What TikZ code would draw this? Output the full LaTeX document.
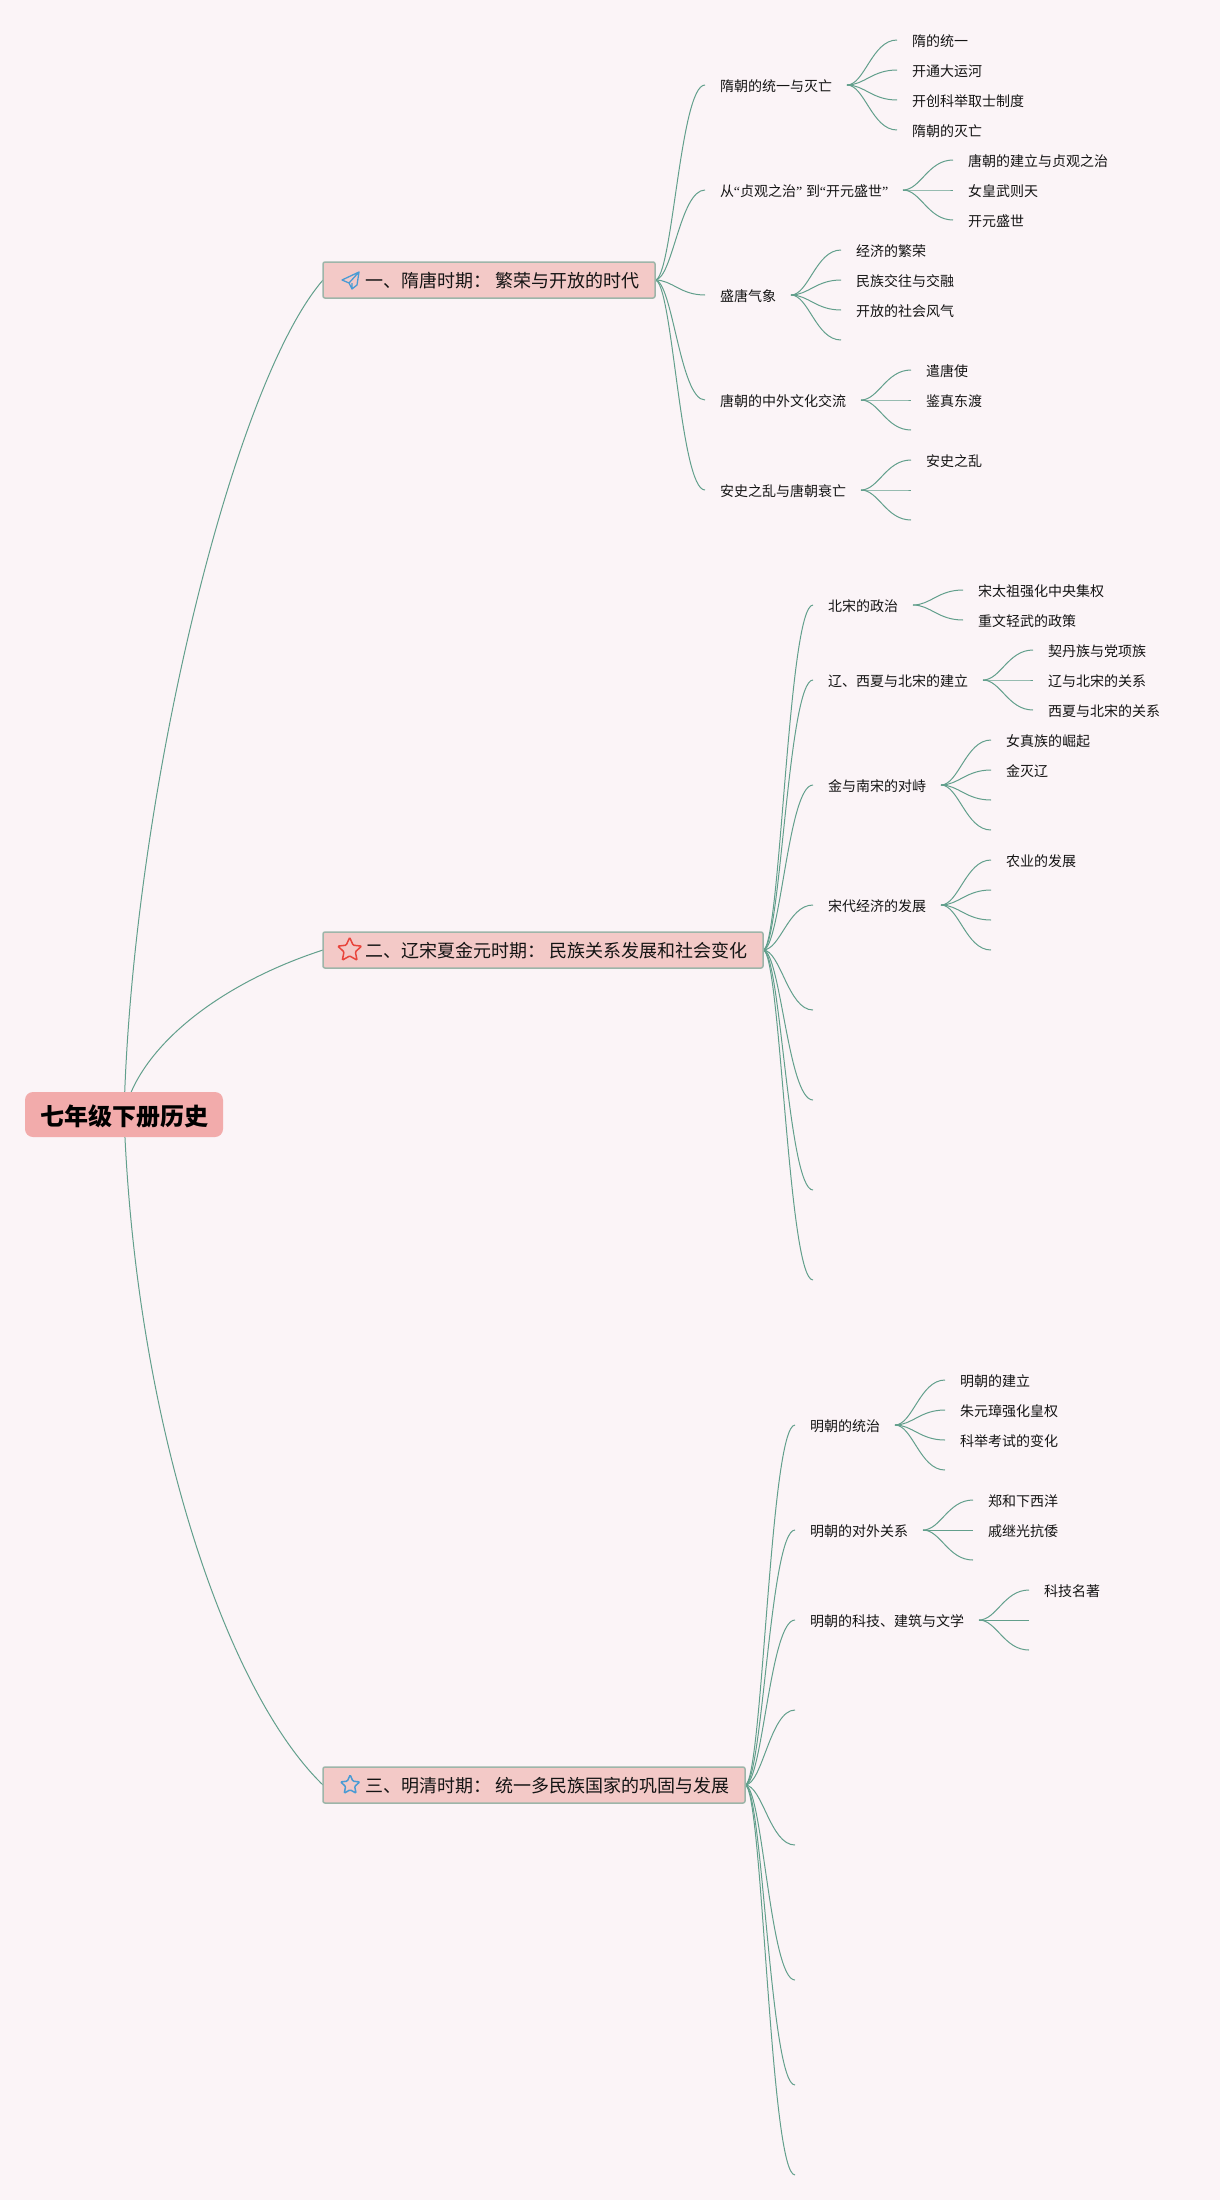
\documentclass[tikz,border=0pt]{standalone}
\usepackage{fontspec}
\setmainfont{Noto Sans CJK SC}
\newfontfamily\quotefont{Liberation Serif}
\newcommand{\qopen}{\makebox[6pt][r]{\quotefont “}}
\newcommand{\qclose}{\makebox[6pt][l]{\quotefont ”}}
\usepackage{xcolor}
\usepackage{tikz}
\usetikzlibrary{positioning,backgrounds,shapes.geometric}
\definecolor{pagebg}{HTML}{FBF4F7}
\definecolor{rootfill}{HTML}{F2ABAB}
\definecolor{boxfill}{HTML}{F3C9C7}
\definecolor{boxline}{HTML}{9DB5A9}
\definecolor{linkcol}{HTML}{629F8C}
\definecolor{starred}{HTML}{E8453C}
\definecolor{iconblue}{HTML}{4A9BD4}

\begin{document}
\begin{tikzpicture}[
    x=1pt,y=1pt,
    root/.style={fill=rootfill,rounded corners=8pt,align=center,minimum width=198pt,minimum height=45pt,inner sep=0pt,outer sep=0pt,font=\fontsize{24}{24}\selectfont\bfseries,text height=22.4pt,text depth=0.4pt},
    period/.style={draw=boxline,line width=1.5pt,fill=boxfill,rounded corners=2pt,minimum height=36pt,inner xsep=16pt,inner ysep=0pt,outer sep=0pt,font=\fontsize{18}{18}\selectfont,text=black!92,text height=16pt,text depth=0.4pt},
    topic/.style={inner xsep=15pt,inner ysep=0pt,outer sep=0pt,font=\fontsize{14}{14}\selectfont,text=black!92,text height=14pt,text depth=0.4pt},
    staricon/.style={star,star points=5,star point ratio=2.1,rounded corners=1pt,line width=1.5pt,inner sep=0pt,outer sep=0pt},
    link/.style={draw=linkcol,line width=1pt},
  ]
    \useasboundingbox (0,0) rectangle (1220,-2200);

    \node[root] (root) at (124,-1114.5) {七年级下册历史};
    \node[period,anchor=west] (sui) at (323,-280) {\hspace*{26pt}一、隋唐时期：\hspace{4pt}繁荣与开放的时代};
    \node[period,anchor=west] (song) at (323,-950) {\hspace*{26pt}二、辽宋夏金元时期：\hspace{4pt}民族关系发展和社会变化};
    \node[period,anchor=west] (ming) at (323,-1785) {\hspace*{26pt}三、明清时期：\hspace{4pt}统一多民族国家的巩固与发展};

    % icons
    \begin{scope}[shift={(sui.west)}]
      \draw[iconblue,line width=1.3pt,line join=round] (36,8) -- (19,0) -- (26,-3) -- (29,-9) -- (34,-5) -- cycle (26,-3) -- (36,8) (29,-9) -- (29,-3);
    \end{scope}
    \node[staricon,draw=starred,minimum size=25pt,right=19pt of song.west] (songstar) {};
    \node[staricon,draw=iconblue,minimum size=20pt,right=21pt of ming.west] (mingstar) {};

    % first period
    \node[topic,right=50pt of sui,yshift=195pt] (suiA) {隋朝的统一与灭亡};
    \node[topic,right=50pt of suiA,yshift=45pt] (suiAa) {隋的统一};
    \node[topic,right=50pt of suiA,yshift=15pt] (suiAb) {开通大运河};
    \node[topic,right=50pt of suiA,yshift=-15pt] (suiAc) {开创科举取士制度};
    \node[topic,right=50pt of suiA,yshift=-45pt] (suiAd) {隋朝的灭亡};
    \node[topic,right=50pt of sui,yshift=90pt] (suiB) {从\qopen 贞观之治\qclose\hspace{4pt}到\qopen 开元盛世\qclose};
    \node[topic,right=50pt of suiB,yshift=30pt] (suiBa) {唐朝的建立与贞观之治};
    \node[topic,right=50pt of suiB] (suiBb) {女皇武则天};
    \node[topic,right=50pt of suiB,yshift=-30pt] (suiBc) {开元盛世};
    \node[topic,right=50pt of sui,yshift=-15pt] (suiC) {盛唐气象};
    \node[topic,right=50pt of suiC,yshift=45pt] (suiCa) {经济的繁荣};
    \node[topic,right=50pt of suiC,yshift=15pt] (suiCb) {民族交往与交融};
    \node[topic,right=50pt of suiC,yshift=-15pt] (suiCc) {开放的社会风气};
    \coordinate[right=50pt of suiC,yshift=-45pt] (suiCd);
    \node[topic,right=50pt of sui,yshift=-120pt] (suiD) {唐朝的中外文化交流};
    \node[topic,right=50pt of suiD,yshift=30pt] (suiDa) {遣唐使};
    \node[topic,right=50pt of suiD] (suiDb) {鉴真东渡};
    \coordinate[right=50pt of suiD,yshift=-30pt] (suiDc);
    \node[topic,right=50pt of sui,yshift=-210pt] (suiE) {安史之乱与唐朝衰亡};
    \node[topic,right=50pt of suiE,yshift=30pt] (suiEa) {安史之乱};
    \coordinate[right=50pt of suiE] (suiEb);
    \coordinate[right=50pt of suiE,yshift=-30pt] (suiEc);

    % second period
    \node[topic,right=50pt of song,yshift=345pt] (songA) {北宋的政治};
    \node[topic,right=50pt of songA,yshift=15pt] (songAa) {宋太祖强化中央集权};
    \node[topic,right=50pt of songA,yshift=-15pt] (songAb) {重文轻武的政策};
    \node[topic,right=50pt of song,yshift=270pt] (songB) {辽、西夏与北宋的建立};
    \node[topic,right=50pt of songB,yshift=30pt] (songBa) {契丹族与党项族};
    \node[topic,right=50pt of songB] (songBb) {辽与北宋的关系};
    \node[topic,right=50pt of songB,yshift=-30pt] (songBc) {西夏与北宋的关系};
    \node[topic,right=50pt of song,yshift=165pt] (songC) {金与南宋的对峙};
    \node[topic,right=50pt of songC,yshift=45pt] (songCa) {女真族的崛起};
    \node[topic,right=50pt of songC,yshift=15pt] (songCb) {金灭辽};
    \coordinate[right=50pt of songC,yshift=-15pt] (songCc);
    \coordinate[right=50pt of songC,yshift=-45pt] (songCd);
    \node[topic,right=50pt of song,yshift=45pt] (songD) {宋代经济的发展};
    \node[topic,right=50pt of songD,yshift=45pt] (songDa) {农业的发展};
    \coordinate[right=50pt of songD,yshift=15pt] (songDb);
    \coordinate[right=50pt of songD,yshift=-15pt] (songDc);
    \coordinate[right=50pt of songD,yshift=-45pt] (songDd);
    \coordinate[right=50pt of song,yshift=-60pt] (songE);
    \coordinate[right=50pt of song,yshift=-150pt] (songF);
    \coordinate[right=50pt of song,yshift=-240pt] (songG);
    \coordinate[right=50pt of song,yshift=-330pt] (songH);

    % third period
    \node[topic,right=50pt of ming,yshift=360pt] (mingA) {明朝的统治};
    \node[topic,right=50pt of mingA,yshift=45pt] (mingAa) {明朝的建立};
    \node[topic,right=50pt of mingA,yshift=15pt] (mingAb) {朱元璋强化皇权};
    \node[topic,right=50pt of mingA,yshift=-15pt] (mingAc) {科举考试的变化};
    \coordinate[right=50pt of mingA,yshift=-45pt] (mingAd);
    \node[topic,right=50pt of ming,yshift=255pt] (mingB) {明朝的对外关系};
    \node[topic,right=50pt of mingB,yshift=30pt] (mingBa) {郑和下西洋};
    \node[topic,right=50pt of mingB] (mingBb) {戚继光抗倭};
    \coordinate[right=50pt of mingB,yshift=-30pt] (mingBc);
    \node[topic,right=50pt of ming,yshift=165pt] (mingC) {明朝的科技、建筑与文学};
    \node[topic,right=50pt of mingC,yshift=30pt] (mingCa) {科技名著};
    \coordinate[right=50pt of mingC] (mingCb);
    \coordinate[right=50pt of mingC,yshift=-30pt] (mingCc);
    \coordinate[right=50pt of ming,yshift=75pt] (mingD);
    \coordinate[right=50pt of ming,yshift=-60pt] (mingE);
    \coordinate[right=50pt of ming,yshift=-195pt] (mingF);
    \coordinate[right=50pt of ming,yshift=-300pt] (mingG);
    \coordinate[right=50pt of ming,yshift=-390pt] (mingH);

    \begin{scope}[on background layer]
      \fill[pagebg] (0,0) rectangle (1220,-2200);
      \draw[link] (root.center) .. controls +(8,314) and +(-91,-105) .. (sui.west);
      \draw[link] (root.center) .. controls +(13,64) and +(-108,-35) .. (song.west);
      \draw[link] (root.center) .. controls +(11,-306) and +(-98,95) .. (ming.west);
      \foreach \from/\to in {
          sui/suiA,sui/suiB,sui/suiC,sui/suiD,sui/suiE,
          suiA/suiAa,suiA/suiAb,suiA/suiAc,suiA/suiAd,
          suiB/suiBa,suiB/suiBb,suiB/suiBc,
          suiC/suiCa,suiC/suiCb,suiC/suiCc,suiC/suiCd,
          suiD/suiDa,suiD/suiDb,suiD/suiDc,
          suiE/suiEa,suiE/suiEb,suiE/suiEc,
          song/songA,song/songB,song/songC,song/songD,song/songE,song/songF,song/songG,song/songH,
          songA/songAa,songA/songAb,
          songB/songBa,songB/songBb,songB/songBc,
          songC/songCa,songC/songCb,songC/songCc,songC/songCd,
          songD/songDa,songD/songDb,songD/songDc,songD/songDd,
          ming/mingA,ming/mingB,ming/mingC,ming/mingD,ming/mingE,ming/mingF,ming/mingG,ming/mingH,
          mingA/mingAa,mingA/mingAb,mingA/mingAc,mingA/mingAd,
          mingB/mingBa,mingB/mingBb,mingB/mingBc,
          mingC/mingCa,mingC/mingCb,mingC/mingCc}
        \draw[link] (\from.east) .. controls +(17.5,0) and +(-25,0) .. (\to.west);
    \end{scope}
  \end{tikzpicture}
\end{document}
